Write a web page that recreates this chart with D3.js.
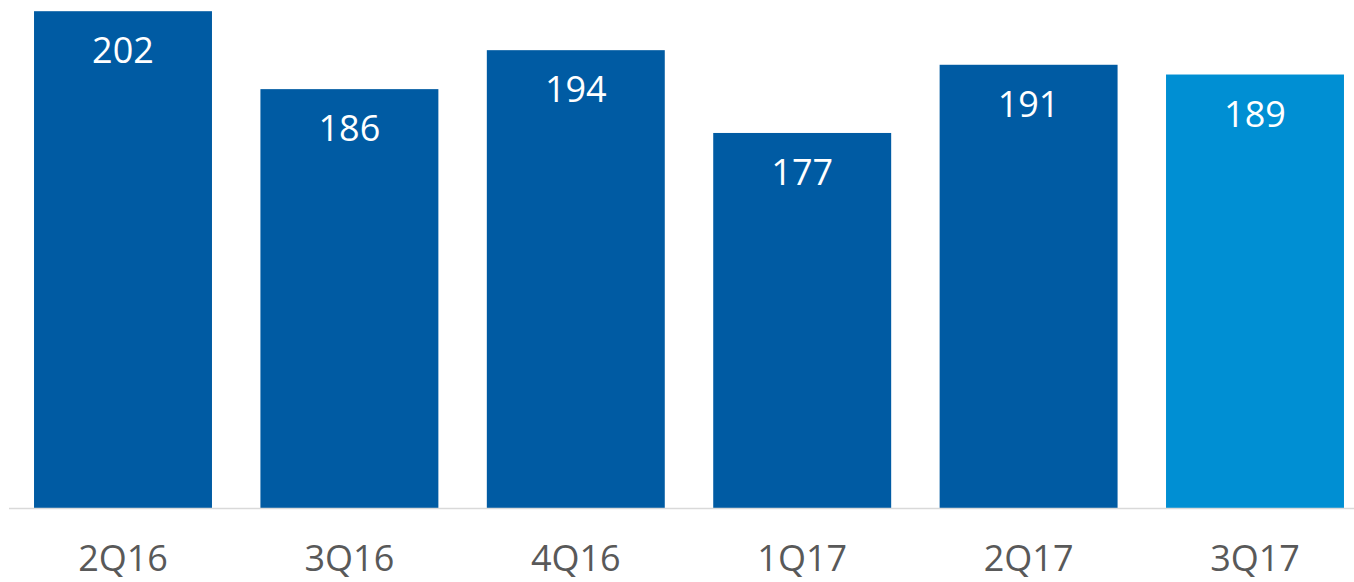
<!DOCTYPE html>
<html>
<head>
<meta charset="utf-8">
<script src="https://cdn.jsdelivr.net/npm/d3@7"></script>
<style>
  html, body { margin: 0; padding: 0; background: #ffffff; }
  svg { display: block; }
  text { font-family: "Open Sans", "Noto Sans", sans-serif; }
</style>
</head>
<body>
<svg id="chart" width="1354" height="582"></svg>
<script>
// Quarterly values
const quarters = ["2Q16", "3Q16", "4Q16", "1Q17", "2Q17", "3Q17"];
const values = [202, 186, 194, 177, 191, 189];
const highlight = ["3Q17"];

const W = 1354, H = 582;
const baseY = 508;
const svg = d3.select("#chart");

const x = d3.scaleBand()
  .domain(quarters)
  .range([9.8, 1368.2])
  .paddingInner(0.214)
  .paddingOuter(0.107);

const y = d3.scaleLinear()
  .domain([100, 204.3])
  .range([baseY, 0]);

// Bars
svg.append("g").selectAll("rect")
  .data(quarters)
  .join("rect")
  .attr("x", d => x(d))
  .attr("width", x.bandwidth())
  .attr("y", (d, i) => y(values[i]))
  .attr("height", (d, i) => baseY - y(values[i]))
  .attr("fill", d => highlight.includes(d) ? "#008fd3" : "#005ba3");

// Baseline
svg.append("line")
  .attr("x1", 9).attr("x2", W)
  .attr("y1", baseY + 0.5).attr("y2", baseY + 0.5)
  .attr("stroke", "#d9d9d9").attr("stroke-width", 1.5);

// Value labels inside bars
svg.append("g").selectAll("text")
  .data(quarters)
  .join("text")
  .attr("x", d => x(d) + x.bandwidth() / 2)
  .attr("y", (d, i) => y(values[i]) + 52)
  .attr("text-anchor", "middle")
  .attr("fill", "#ffffff")
  .attr("font-size", 36)
  .text((d, i) => values[i]);

// Category axis labels
const axis = d3.axisBottom(x).tickSize(0).tickPadding(0);
const gx = svg.append("g")
  .attr("transform", `translate(0,${baseY})`)
  .call(axis);
gx.select(".domain").remove();
gx.selectAll("text")
  .attr("dy", null)
  .attr("y", 571 - baseY)
  .attr("fill", "#595959")
  .attr("font-size", 36)
  .attr("font-family", "\"Open Sans\", \"Noto Sans\", sans-serif");
</script>
</body>
</html>
